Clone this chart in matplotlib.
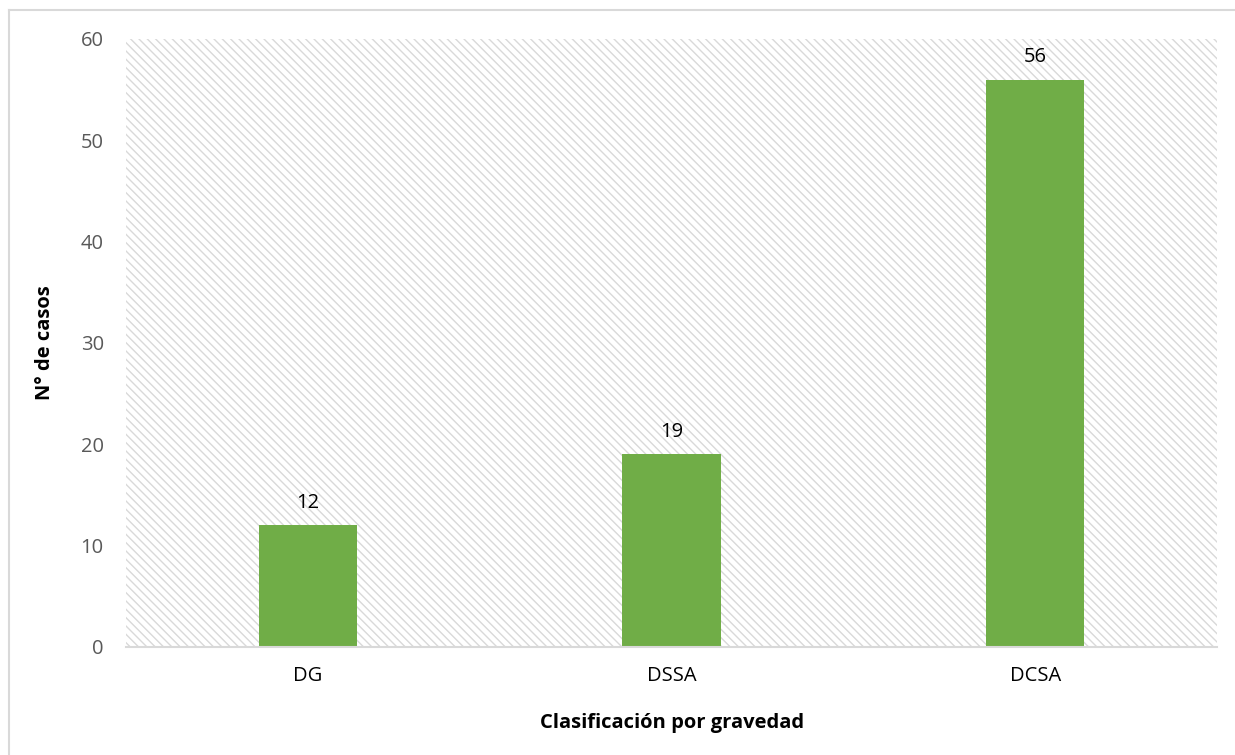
import matplotlib
matplotlib.use("Agg")
import matplotlib.pyplot as plt
from matplotlib.patches import Rectangle
from matplotlib.lines import Line2D

categories = ["DG", "DSSA", "DCSA"]
casos = [12, 19, 56]
y_ticks = [0, 10, 20, 30, 40, 50, 60]

plt.rcParams["font.family"] = ["Open Sans", "DejaVu Sans"]
plt.rcParams["hatch.linewidth"] = 1.0

W, H = 1235, 755
fig = plt.figure(figsize=(W / 100, H / 100), dpi=100)
ax = fig.add_axes([126 / W, 1 - 647 / H, (1217 - 126) / W, (647 - 39) / H])

# hatched plot-area background
ax.add_patch(Rectangle((0, 0), 1, 1, transform=ax.transAxes, facecolor="white",
                       edgecolor="#d9d9d9", linewidth=0, hatch="\\\\\\\\", zorder=0))

x = range(len(categories))
bars = ax.bar(x, casos, width=0.27, color="#70AD47", zorder=2)
for rect, v in zip(bars, casos):
    ax.annotate(str(v), (rect.get_x() + rect.get_width() / 2, v),
                xytext=(0, 9), textcoords="offset points",
                ha="center", va="bottom", fontsize=14.5, color="black")

ax.set_xlim(-0.5, len(categories) - 0.5)
ax.set_ylim(0, 60)
ax.set_yticks(y_ticks)
ax.set_xticks(list(x))
ax.set_xticklabels(categories)
ax.tick_params(axis="y", length=0, pad=16, labelsize=14.5, labelcolor="#595959")
ax.tick_params(axis="x", length=0, pad=14, labelsize=14.5, labelcolor="black")

for side in ("left", "right", "top"):
    ax.spines[side].set_visible(False)
ax.spines["bottom"].set_color("#d9d9d9")
ax.spines["bottom"].set_linewidth(1.5)
ax.spines["bottom"].set_zorder(3)

fig.text(45 / W, 1 - 343 / H, "N° de casos", rotation=90, ha="center", va="center",
         fontsize=14.5, fontweight="bold")
fig.text(672 / W, 1 - 723 / H, "Clasificación por gravedad", ha="center", va="center",
         fontsize=14.5, fontweight="bold")

# outer chart frame (top and left edges visible)
fig.add_artist(Line2D([9 / W, 1], [1 - 10 / H, 1 - 10 / H], transform=fig.transFigure,
                      color="#d9d9d9", linewidth=1.5))
fig.add_artist(Line2D([9 / W, 9 / W], [0, 1 - 10 / H], transform=fig.transFigure,
                      color="#d9d9d9", linewidth=1.5))

fig.savefig("out.png", dpi=100)
